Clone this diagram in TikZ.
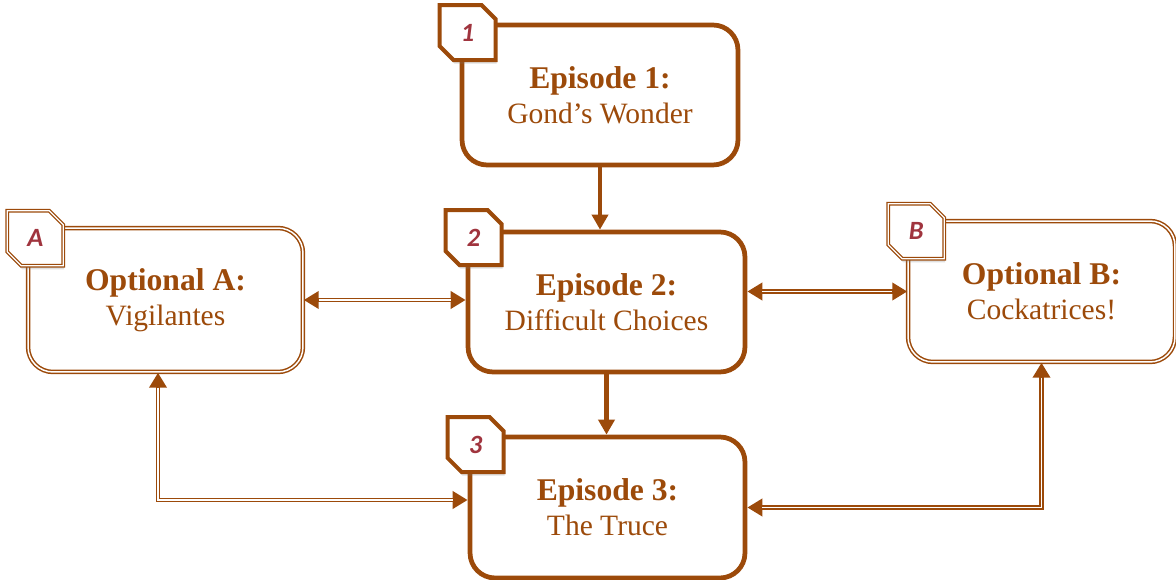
\documentclass[tikz,border=0pt]{standalone}
\usepackage{fontspec}
\setmainfont{Liberation Serif}
\newfontfamily\badgefont{Carlito}
\usetikzlibrary{arrows.meta,shapes.misc,shadows}
\definecolor{brn}{RGB}{156,74,10}
\definecolor{numred}{RGB}{160,52,62}

\begin{document}
\begin{tikzpicture}[x=0.02cm,y=-0.02cm,
  episode/.style={rectangle,draw=brn,line width=2.7pt,rounded corners=0.5cm,fill=white,
    minimum width=5.52cm,minimum height=2.8cm,align=center,text=brn,
    font=\fontsize{16.8}{20}\selectfont},
  optional/.style={episode,line width=0.85pt,double=white,double distance=0.85pt},
  badge/.style={chamfered rectangle,chamfered rectangle corners={north east,south west},
    chamfered rectangle xsep=0.22cm,draw=brn,line width=2.3pt,fill=white,
    minimum width=1.12cm,minimum height=1.1cm,inner sep=0pt,
    text=numred,font=\badgefont\bfseries\itshape\fontsize{15}{15}\selectfont,
    drop shadow={opacity=0.25,shadow xshift=0.5pt,shadow yshift=-2pt}},
  optbadge/.style={badge,line width=0.7pt,double=white,double distance=0.7pt},
  wire/.style={draw=brn,line width=2.8pt,{Triangle[length=0.3cm,width=0.34cm]}-{Triangle[length=0.3cm,width=0.34cm]}},
  wirein/.style={draw=white,line width=0.9pt,shorten <=0.3cm,shorten >=0.3cm},
  flow/.style={draw=brn,line width=2.7pt,-{Triangle[length=0.3cm,width=0.32cm]}}]
\useasboundingbox (0,0) rectangle (1176,580);

% main episodes
\node[episode] (ep1) at (600,95) {{\bfseries\fontsize{18}{20}\selectfont Episode 1:}\\Gond’s Wonder};
\node[episode,minimum width=5.54cm] (ep2) at (606.5,302) {{\bfseries\fontsize{18}{20}\selectfont Episode 2:}\\Difficult Choices};
\node[episode,minimum width=5.5cm,minimum height=2.82cm] (ep3) at (607.5,507.5) {{\bfseries\fontsize{18}{20}\selectfont Episode 3:}\\The Truce};

% optional side episodes
\node[optional,minimum width=5.5cm,minimum height=2.88cm] (optA) at (165.5,300) {{\bfseries\fontsize{18}{20}\selectfont Optional A:}\\Vigilantes};
\node[optional,minimum width=5.34cm,minimum height=2.82cm] (optB) at (1041.5,291.5) {{\bfseries\fontsize{18}{20}\selectfont Optional B:}\\Cockatrices!};

\draw[flow] (ep1.south) -- (ep1.south |- ep2.north);
\draw[flow] (ep2.south) -- (ep2.south |- ep3.north);

\draw[wire] (optA.east) -- (optA.east -| ep2.west);
\draw[wirein] (optA.east) -- (optA.east -| ep2.west);
\draw[wire] (optB.west -| ep2.east) -- (optB.west);
\draw[wirein] (optB.west -| ep2.east) -- (optB.west);
\draw[wire] ([xshift=-0.15cm]optA.south) |- ([yshift=0.15cm]ep3.west);
\draw[wirein] ([xshift=-0.15cm]optA.south) |- ([yshift=0.15cm]ep3.west);
\draw[wire] (optB.south) |- (ep3.east);
\draw[wirein] (optB.south) |- (ep3.east);

% badges
\node[badge] (b1) at ([shift={(8,10)}]ep1.north west) {1};
\node[badge] (b2) at ([shift={(8,8)}]ep2.north west) {2};
\node[badge] (b3) at ([shift={(8,10)}]ep3.north west) {3};
\node[optbadge] (bA) at ([shift={(8,11)}]optA.north west) {A};
\node[optbadge] (bB) at ([shift={(9,11)}]optB.north west) {B};
\end{tikzpicture}
\end{document}
